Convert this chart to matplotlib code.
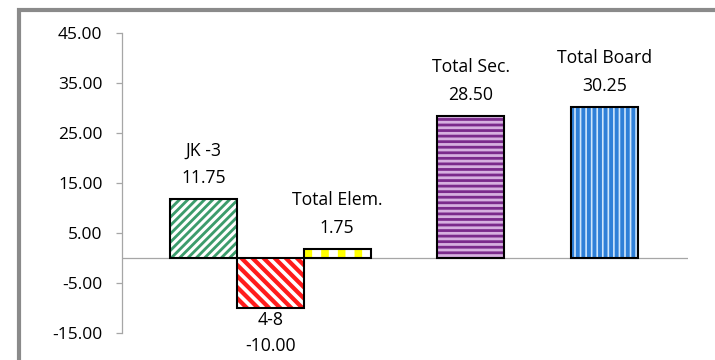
import matplotlib
matplotlib.use("Agg")
import matplotlib.pyplot as plt
from matplotlib.patches import Rectangle

# ---- data ----
labels = ["JK -3", "4-8", "Total Elem.", "Total Sec.", "Total Board"]
values = [11.75, -10.00, 1.75, 28.50, 30.25]
yticks = [-15, -5, 5, 15, 25, 35, 45]

# ---- styling ----
slots = [0, 1, 2, 4, 6]
faces = ["#3c9c6c", "#ff1c1c", "white", "#d6b0e0", "#2f80d8"]
hatch_cols = ["white", "white", "#ffff00", "#7b2a8c", "#cfe6fb"]
hatches = ["////", "\\\\\\", "|", "---", "|||"]
hatch_lw = [2.2, 2.6, 5.5, 2.0, 1.2]

AXC = "#a6a6a6"
FONT = "Open Sans"
plt.rcParams["font.family"] = [FONT, "DejaVu Sans"]

fig = plt.figure(figsize=(7.15, 3.6), dpi=100)
ax = fig.add_axes([122 / 715, 27 / 360, 566 / 715, 300 / 360])

for s, v, fc, hc, h, hl in zip(slots, values, faces, hatch_cols, hatches, hatch_lw):
    with plt.rc_context({"hatch.linewidth": hl}):
        ax.bar(s, v, width=1.0, color=fc, edgecolor=hc, hatch=h, linewidth=0, zorder=2)
    ax.bar(s, v, width=1.0, fill=False, edgecolor="black", linewidth=1.5, zorder=3)

for s, v, lab in zip(slots, values, labels):
    if v >= 0:
        ax.annotate(f"{lab}\n{v:.2f}", xy=(s, v), xytext=(0, 8.5), textcoords="offset points",
                    ha="center", va="bottom", fontsize=12.7, linespacing=1.72)
    else:
        ax.annotate(f"{lab}\n{v:.2f}", xy=(s, v), xytext=(0, -2), textcoords="offset points",
                    ha="center", va="top", fontsize=12.7, linespacing=1.6)

ax.axhline(0, color=AXC, lw=0.9, zorder=1)
ax.set_xlim(-1.216, 7.246)
ax.set_ylim(-15, 45)
ax.set_yticks(yticks)
ax.set_yticklabels([f"{t:.2f}" for t in yticks], fontsize=12.5)
ax.set_xticks([])
for s in ("top", "right", "bottom"):
    ax.spines[s].set_visible(False)
ax.spines["left"].set_color(AXC)
ax.spines["left"].set_linewidth(0.9)
ax.tick_params(axis="y", colors=AXC, labelcolor="black", length=4, width=0.9, pad=10)

# outer chart frame (runs off the right and bottom edges)
fig.add_artist(Rectangle((19 / 715, -0.2), 1.2, 1.2 - 9.5 / 360, transform=fig.transFigure,
                         fill=False, edgecolor="#8a8a8a", linewidth=3, clip_on=False))

fig.savefig("out.png", dpi=100)
